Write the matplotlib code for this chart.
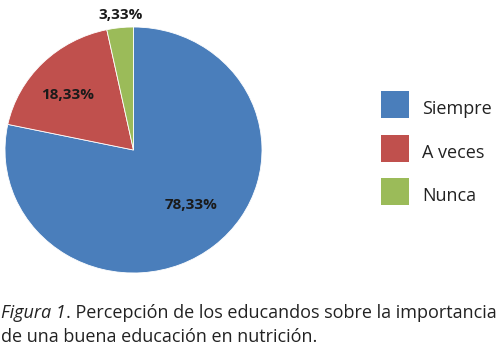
import matplotlib
matplotlib.use("Agg")
import matplotlib.pyplot as plt
from matplotlib.patches import Rectangle

categories = ["Siempre", "A veces", "Nunca"]
values = [78.33, 18.33, 3.33]
labels_pct = ["78,33%", "18,33%", "3,33%"]
colors = ["#4A7EBB", "#C0504D", "#9BBB59"]

W, H = 502, 364
fig = plt.figure(figsize=(W / 100, H / 100), dpi=100)
fig.patch.set_facecolor("white")

# pie axes in pixel geometry
px_l, px_r, px_t, px_b = 5, 262, 27, 273
ax = fig.add_axes([px_l / W, 1 - px_b / H, (px_r - px_l) / W, (px_b - px_t) / H])
wedges, _ = ax.pie(values, colors=colors, startangle=90, counterclock=False,
                   wedgeprops=dict(linewidth=0.6, edgecolor="white"))
ax.set_aspect("auto")
ax.set_xlim(-1, 1)
ax.set_ylim(-1, 1)

label_pos = [(0.45, -0.45), (-0.51, 0.45), (-0.10, 1.10)]
for (x, y), t in zip(label_pos, labels_pct):
    ax.text(x, y, t, ha="center", va="center", fontsize=11, fontweight="bold",
            color="#1a1a1a", family="Open Sans", clip_on=False)

# legend drawn in pixel geometry
sq_x, sq_w, sq_h = 381, 28, 27
sq_tops = [91, 135, 178]
for top, c, name in zip(sq_tops, colors, categories):
    fig.add_artist(Rectangle((sq_x / W, 1 - (top + sq_h) / H), sq_w / W, sq_h / H,
                             transform=fig.transFigure, facecolor=c,
                             edgecolor="none"))
    fig.text(422 / W, 1 - (top + sq_h - 4) / H, name, fontsize=13,
             family="Open Sans", va="baseline", ha="left", color="#222222")

cap_y1 = 1 - 318 / H
cap_y2 = 1 - 342 / H
t1 = fig.text(1 / W, cap_y1, "Figura 1", fontsize=13, style="italic",
              family="Open Sans", va="baseline", color="#222222")
fig.canvas.draw()
bb = t1.get_window_extent()
fig.text(bb.x1 / W, cap_y1,
         ". Percepción de los educandos sobre la importancia",
         fontsize=13, family="Open Sans", va="baseline", color="#222222")
fig.text(1 / W, cap_y2, "de una buena educación en nutrición.", fontsize=13,
         family="Open Sans", va="baseline", color="#222222")

fig.savefig("out.png", dpi=100)
